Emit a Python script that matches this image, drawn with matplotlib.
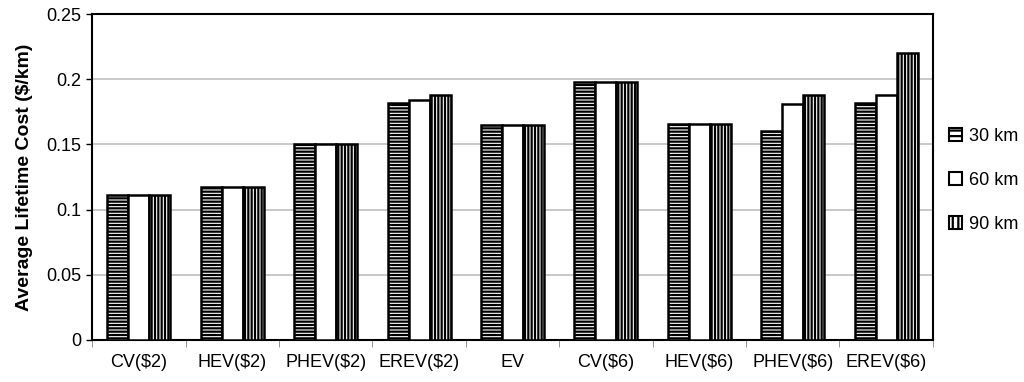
import numpy as np
import matplotlib.pyplot as plt
from matplotlib.patches import Patch

plt.rcParams['font.family'] = ['Liberation Sans', 'DejaVu Sans']
plt.rcParams['hatch.linewidth'] = 1.6

categories = ['CV($2)', 'HEV($2)', 'PHEV($2)', 'EREV($2)', 'EV',
              'CV($6)', 'HEV($6)', 'PHEV($6)', 'EREV($6)']
series = ['30 km', '60 km', '90 km']
km30 = [0.111, 0.117, 0.150, 0.182, 0.165, 0.198, 0.166, 0.160, 0.182]
km60 = [0.111, 0.117, 0.150, 0.184, 0.165, 0.198, 0.166, 0.181, 0.188]
km90 = [0.111, 0.117, 0.150, 0.188, 0.165, 0.198, 0.166, 0.188, 0.220]
hatches = ['-----', '', '|||||']

fig = plt.figure(figsize=(10.24, 3.82), dpi=100)
ax = fig.add_axes([0.09, 0.11, 0.821, 0.853])

x = np.arange(len(categories))
w = 0.225
for i, (vals, h) in enumerate(zip([km30, km60, km90], hatches)):
    ax.bar(x + (i - 1) * w, vals, w, facecolor='white', edgecolor='black',
           linewidth=1.8, hatch=h, zorder=3)

ax.set_xlim(-0.5, len(categories) - 0.5)
ax.set_ylim(0, 0.25)
ax.set_yticks(np.arange(0, 0.251, 0.05))
ax.set_yticklabels(['0', '0.05', '0.1', '0.15', '0.2', '0.25'], fontsize=13)
ax.yaxis.grid(True, color='#c0c0c0', linewidth=1.2, zorder=0)
ax.set_xticks(x)
ax.set_xticklabels(categories, fontsize=13)
ax.tick_params(axis='x', length=0, pad=10)
ax.set_xticks(np.arange(-0.5, len(categories)), minor=True)
ax.tick_params(axis='x', which='minor', length=5, color='#808080')
ax.tick_params(axis='y', length=4, width=1)
for s in ax.spines.values():
    s.set_linewidth(1.5)

ax.set_ylabel('Average Lifetime Cost ($/km)', fontsize=14, fontweight='bold',
              labelpad=10)

handles = [Patch(facecolor='white', edgecolor='black', hatch=h, linewidth=1.5)
           for h in ['---', '', '|||']]
ax.legend(handles, series, loc='center left', bbox_to_anchor=(1.0, 0.49),
          frameon=False, fontsize=13, handlelength=0.7, handleheight=0.7,
          handletextpad=0.4, labelspacing=1.5)

fig.savefig('out.png', dpi=100)
